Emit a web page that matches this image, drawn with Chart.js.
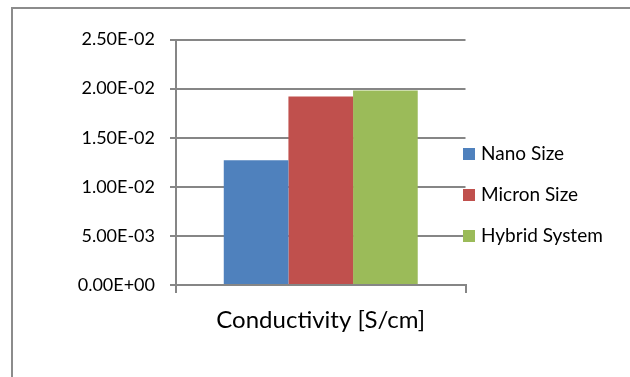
<!DOCTYPE html>
<html>
<head>
<meta charset="utf-8">
<script src="https://cdn.jsdelivr.net/npm/chart.js@4.4.1/dist/chart.umd.min.js"></script>
<style>
  html, body { margin: 0; padding: 0; background: #fff; }
  #wrap { position: relative; width: 630px; height: 377px; }
  canvas { display: block; }
</style>
</head>
<body>
<div id="wrap"><canvas id="c" width="630" height="377"></canvas></div>
<script>
// Single category, three series of conductivity values
const categories = ['Conductivity [S/cm]'];
const seriesNames = ['Nano Size', 'Micron Size', 'Hybrid System'];
const nanoValues = [0.0127];
const micronValues = [0.0192];
const hybridValues = [0.0198];
const yTicks = [0, 0.005, 0.01, 0.015, 0.02, 0.025];

const colors = ['#4F81BD', '#C0504D', '#9BBB59'];
const gridColor = '#868686';
const fontFamily = 'Lato, "Open Sans", sans-serif';

// Scientific notation with a two-digit exponent, e.g. 2.50E-02
function sci(v) {
  if (Math.abs(v) < 1e-12) return '0.00E+00';
  let exp = Math.floor(Math.log10(Math.abs(v)));
  let mant = v / Math.pow(10, exp);
  if (Math.round(mant * 100) / 100 >= 10) { mant /= 10; exp += 1; }
  const sign = exp < 0 ? '-' : '+';
  return mant.toFixed(2) + 'E' + sign + String(Math.abs(exp)).padStart(2, '0');
}

// Outer frame lines along the top and left
const framePlugin = {
  id: 'frame',
  beforeDraw(chart) {
    const ctx = chart.ctx;
    ctx.save();
    ctx.fillStyle = '#fff';
    ctx.fillRect(0, 0, chart.width, chart.height);
    ctx.strokeStyle = '#8c8c8c';
    ctx.lineWidth = 2;
    ctx.beginPath();
    ctx.moveTo(12, chart.height);
    ctx.lineTo(12, 8);
    ctx.lineTo(chart.width, 8);
    ctx.stroke();
    ctx.restore();
  }
};

// Legend drawn at the right of the plot from the dataset list
const sideLegend = {
  id: 'sideLegend',
  afterDraw(chart) {
    const ctx = chart.ctx;
    const x0 = 463;
    const firstBaseline = 160;
    const step = 41;
    const box = 12;
    ctx.save();
    ctx.font = '19px ' + fontFamily;
    ctx.textBaseline = 'alphabetic';
    ctx.textAlign = 'left';
    chart.data.datasets.forEach((ds, i) => {
      const base = firstBaseline + i * step;
      ctx.fillStyle = ds.backgroundColor;
      ctx.fillRect(x0, base - 12, box, box);
      ctx.fillStyle = '#000';
      ctx.fillText(ds.label, x0 + 18, base);
    });
    ctx.restore();
  }
};

const datasets = [nanoValues, micronValues, hybridValues].map((vals, i) => ({
  label: seriesNames[i],
  data: vals,
  backgroundColor: colors[i],
  borderWidth: 0,
  barPercentage: 1.0,
  categoryPercentage: 0.67
}));

new Chart(document.getElementById('c'), {
  type: 'bar',
  data: { labels: categories, datasets },
  options: {
    responsive: false,
    animation: false,
    devicePixelRatio: 1,
    layout: { padding: { top: 39.5, right: 164.5, bottom: 0, left: 0 } },
    plugins: {
      legend: { display: false },
      tooltip: { enabled: false }
    },
    scales: {
      x: {
        afterFit(scale) { scale.height = 92; },
        grid: {
          display: true,
          offset: true,
          drawOnChartArea: false,
          drawTicks: true,
          tickLength: 8,
          color: gridColor,
          lineWidth: 2
        },
        border: { display: true, color: gridColor, width: 2 },
        ticks: {
          color: '#000',
          padding: 13,
          font: { family: fontFamily, size: 24 }
        }
      },
      y: {
        min: 0,
        max: 0.025,
        afterFit(scale) { scale.width = 176; },
        afterBuildTicks(scale) { scale.ticks = yTicks.map(v => ({ value: v })); },
        grid: {
          color: gridColor,
          lineWidth: 2,
          tickLength: 6,
          drawTicks: true
        },
        border: { display: true, color: gridColor, width: 2 },
        ticks: {
          color: '#000',
          padding: 15,
          font: { family: fontFamily, size: 18 },
          callback: (v) => sci(v)
        }
      }
    }
  },
  plugins: [framePlugin, sideLegend]
});
</script>
</body>
</html>
